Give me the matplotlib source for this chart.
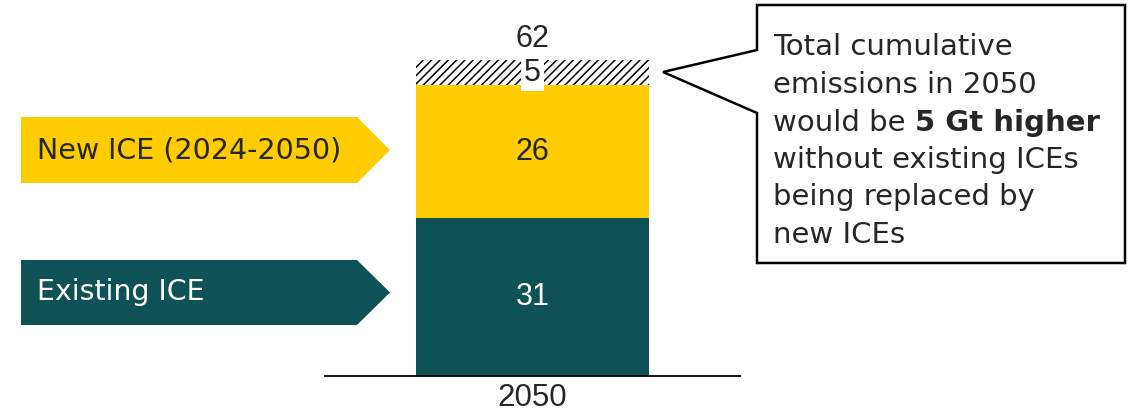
import matplotlib.pyplot as plt
from matplotlib.patches import Polygon

# data
category = ["2050"]
existing_ice = [31]
new_ice = [26]
replacement_gap = [5]
total = [62]

TEAL = "#0E5157"
YELLOW = "#FFCC00"
TEXT = "#262626"
W, H = 1133, 418

plt.rcParams["font.family"] = ["DejaVu Sans"]
plt.rcParams["hatch.linewidth"] = 1.1

fig = plt.figure(figsize=(W / 100, H / 100), dpi=100)
ax = fig.add_axes([325 / W, 1 - 376 / H, 415 / W, 357 / H])
ax.set_xlim(-0.5, 0.5)
ax.set_ylim(0, 70)

x = range(len(category))
ax.bar(x, existing_ice, width=0.56, color=TEAL, lw=0)
ax.bar(x, new_ice, bottom=existing_ice, width=0.56, color=YELLOW, lw=0)
base2 = [a + b for a, b in zip(existing_ice, new_ice)]
ax.bar(x, replacement_gap, bottom=base2, width=0.56, color="white",
       edgecolor="black", hatch="////", lw=0)

num_font = dict(family="Liberation Sans", fontsize=22)
for i in x:
    ax.text(i, existing_ice[i] / 2, str(existing_ice[i]), color="white",
            ha="center", va="center", **num_font)
    ax.text(i, existing_ice[i] + new_ice[i] / 2, str(new_ice[i]), color=TEXT,
            ha="center", va="center", **num_font)
    ax.text(i, base2[i] + replacement_gap[i] / 2, str(replacement_gap[i]),
            color=TEXT, ha="center", va="center",
            bbox=dict(fc="white", ec="none", pad=2.5), **num_font)
    ax.text(i, total[i] + 1.2, str(total[i]), color=TEXT, ha="center",
            va="bottom", **num_font)

ax.set_xticks(list(x))
ax.set_xticklabels(category, color=TEXT, family="Liberation Sans", fontsize=22.5)
ax.tick_params(axis="x", length=0, pad=5)
ax.set_yticks([])
for s in ["left", "right", "top"]:
    ax.spines[s].set_visible(False)
ax.spines["bottom"].set_linewidth(1.3)


def px(points):
    return [(a / W, 1 - b / H) for a, b in points]


# series labels as arrow tags
tags = [("New ICE (2024-2050)", YELLOW, TEXT, 117, 183),
        ("Existing ICE", TEAL, "white", 260, 325)]
for label, fc, tc, top, bot in tags:
    mid = (top + bot) / 2
    fig.add_artist(Polygon(px([(21, top), (357, top), (390, mid), (357, bot), (21, bot)]),
                           closed=True, fc=fc, ec="none", transform=fig.transFigure))
    fig.text(37 / W, 1 - mid / H, label, color=tc, fontsize=20.5,
             ha="left", va="center")

# callout
fig.add_artist(Polygon(px([(757, 5), (1125, 5), (1125, 263), (757, 263),
                           (757, 113), (663, 72), (757, 50)]),
                       closed=True, fc="white", ec="black", lw=1.8,
                       transform=fig.transFigure))
lines = ["Total cumulative", "emissions in 2050", None,
         "without existing ICEs", "being replaced by", "new ICEs"]
baselines = [55, 93, 131, 168, 205, 243]
fsz = 21
for line, b in zip(lines, baselines):
    if line is not None:
        fig.text(773 / W, 1 - b / H, line, color=TEXT, fontsize=fsz,
                 ha="left", va="baseline")
t1 = fig.text(773 / W, 1 - 131 / H, "would be ", color=TEXT, fontsize=fsz,
              ha="left", va="baseline")
r = fig.canvas.get_renderer()
ext = t1.get_window_extent(r)
fig.text(ext.x1 / W, 1 - 131 / H, "5 Gt higher", color=TEXT, fontsize=fsz,
         fontweight="bold", ha="left", va="baseline")

fig.savefig("out.png", dpi=100)
